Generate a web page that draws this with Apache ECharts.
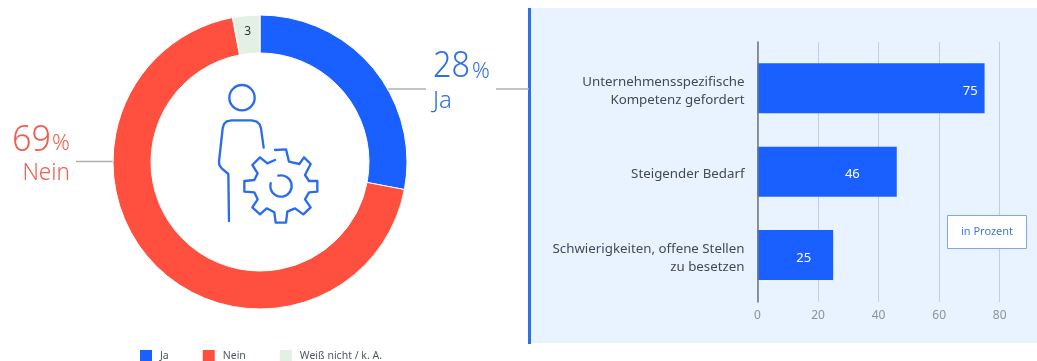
<!DOCTYPE html>
<html><head><meta charset="utf-8">
<style>html,body{margin:0;padding:0;background:#fff}#c{width:1037px;height:361px}</style>
<script src="https://cdn.jsdelivr.net/npm/echarts@6/dist/echarts.min.js"></script>
</head><body><div id="c"></div>
<script>
const answers = ['Ja', 'Nein', 'Weiß nicht / k. A.'];
const shares = [28, 69, 3];
const reasons = ['Unternehmensspezifische\nKompetenz gefordert', 'Steigender Bedarf', 'Schwierigkeiten, offene Stellen\nzu besetzen'];
const reasonValues = [75, 46, 25];
const xTicks = [0, 20, 40, 60, 80];
const unitLabel = 'in Prozent';
const labelInsets = [7, 37, 22];

const FONT = '"Noto Sans", "Open Sans", sans-serif';
const BLUE = '#1a5fff', RED = '#ff4f3e', GREEN = '#e3f0e4', PANEL = '#e8f3ff';
const TXT_BLUE = '#2e6fe6', TXT_RED = '#ef5f50', ICON = '#2a6cec', LEAD = '#aab0b4';

const chart = echarts.init(document.getElementById('c'), null, {renderer: 'canvas'});

const gearPts = [[195,210],[228,208],[237,245],[268,252],[282,232],[302,252],[285,285],[297,303],[322,303],[322,335],[297,337],[285,358],[302,382],[280,403],[255,385],[232,395],[228,428],[197,428],[193,397],[170,385],[150,403],[127,382],[143,358],[133,337],[103,335],[103,303],[133,300],[143,280],[127,255],[150,232],[172,250],[195,240]];
const bodyPts = [[161,203],[153,145],[149,133],[140,125],[125,121],[65,121],[50,124],[42,132],[38,145],[27,245],[28,255],[35,265],[55,282],[57,423]];
const ICON_STYLE = {stroke: ICON, lineWidth: 7, fill: null, lineCap: 'round', lineJoin: 'round'};

function txt(x, y, text, size, color, align, sx) {
  return {type: 'text', x, y, z: 10, scaleX: sx || 1, style: {text, font: '300 ' + size + 'px ' + FONT, fill: color, align: align || 'left', verticalAlign: 'middle'}};
}
function line(x1, x2, y) {
  return {type: 'line', z: 1, shape: {x1, y1: y, x2, y2: y}, style: {stroke: LEAD, lineWidth: 1.5}};
}
const xMin = xTicks[0], xMax = xTicks[xTicks.length - 1];

chart.setOption({
  animation: false,
  backgroundColor: '#fff',
  textStyle: {fontFamily: FONT},
  color: [BLUE, RED, GREEN],
  legend: {
    left: 138, top: 348, itemWidth: 14, itemHeight: 14, itemGap: 32, icon: 'rect',
    data: answers, selectedMode: false, padding: 0,
    textStyle: {fontSize: 10.5, color: '#4b5a60', fontFamily: FONT, padding: [0, 0, 0, 2]}
  },
  graphic: [
    {type: 'rect', z: -10, silent: true, shape: {x: 529, y: 8, width: 508, height: 335}, style: {fill: PANEL}},
    {type: 'rect', z: -9, silent: true, shape: {x: 528, y: 8, width: 3, height: 336}, style: {fill: '#2e6fe6'}},
    line(388, 426, 89), line(496, 529, 89), line(76, 114, 161.5),
    txt(433, 67, String(shares[0]), 36, TXT_BLUE, 'left', 0.9),
    txt(472, 72, '%', 22, TXT_BLUE),
    txt(433, 101, answers[0], 24, TXT_BLUE),
    txt(12, 141, String(shares[1]), 36, TXT_RED, 'left', 0.95),
    txt(52, 144, '%', 22, TXT_RED),
    txt(70, 173, answers[1], 24, TXT_RED, 'right', 0.94),
    {type: 'group', x: 210, y: 80, scaleX: 1 / 3, scaleY: 1 / 3, silent: true, children: [
      {type: 'circle', shape: {cx: 96, cy: 53, r: 38}, style: ICON_STYLE},
      {type: 'polyline', shape: {points: bodyPts}, style: ICON_STYLE},
      {type: 'polyline', shape: {points: gearPts}, style: ICON_STYLE},
      {type: 'arc', shape: {cx: 213, cy: 318, r: 32, startAngle: -104.5 * Math.PI / 180, endAngle: 195 * Math.PI / 180, clockwise: true}, style: ICON_STYLE}
    ]},
    {type: 'rect', z: 10, shape: {x: 947.5, y: 215.5, width: 79, height: 33}, style: {fill: '#fff', stroke: '#7ea6f2', lineWidth: 1}},
    {type: 'text', z: 11, x: 987, y: 232, style: {text: unitLabel, font: '400 11px ' + FONT, fill: '#3f78e6', align: 'center', verticalAlign: 'middle'}}
  ],
  grid: [
    {left: 757.5, top: 42, width: 242.2, height: 260},
    {left: 757.5, top: 46.7, width: 242.2, height: 250},
    {left: 757.5, top: 49.7, width: 242.2, height: 250}
  ],
  xAxis: [
    {gridIndex: 0, type: 'value', min: xMin, max: xMax, interval: xTicks[1] - xTicks[0],
      axisLine: {show: false}, axisTick: {show: false},
      axisLabel: {color: '#8b9398', fontSize: 12, margin: 8, fontFamily: FONT},
      splitLine: {show: true, lineStyle: {color: '#c6ced6', width: 1}}},
    {gridIndex: 1, type: 'value', min: xMin, max: xMax, show: false, splitLine: {show: false}},
    {gridIndex: 2, type: 'value', min: xMin, max: xMax, show: false, splitLine: {show: false}}
  ],
  yAxis: [
    {gridIndex: 0, type: 'category', data: [''], axisTick: {show: false}, axisLabel: {show: false},
      axisLine: {show: true, lineStyle: {color: '#6f7679', width: 1.5}}, z: 5},
    {gridIndex: 1, type: 'category', inverse: true, data: reasons,
      axisLine: {show: false}, axisTick: {show: false}, axisLabel: {show: false}},
    {gridIndex: 2, type: 'category', inverse: true, data: reasons,
      axisLine: {show: false}, axisTick: {show: false},
      axisLabel: {margin: 13, color: '#3f4c52', fontSize: 13.3, lineHeight: 18, align: 'right', fontFamily: FONT}}
  ],
  series: [
    {type: 'pie', center: [260, 162], radius: [109, 147], startAngle: 90, clockwise: true, silent: true,
      itemStyle: {borderColor: '#fff', borderWidth: 1},
      label: {show: false}, labelLine: {show: false},
      data: answers.map((name, i) => ({
        name, value: shares[i],
        label: i === 2 ? {show: true, position: 'inside', formatter: '{c}', color: '#333', fontSize: 12, fontFamily: FONT} : {show: false}
      }))},
    {type: 'bar', xAxisIndex: 1, yAxisIndex: 1, barWidth: 50, silent: true,
      itemStyle: {color: BLUE},
      data: reasonValues.map((value, i) => ({
        value,
        label: {show: true, position: 'insideRight', distance: labelInsets[i], offset: [0, 3], color: '#fff', fontSize: 13, fontFamily: FONT}
      }))}
  ]
});
</script></body></html>
